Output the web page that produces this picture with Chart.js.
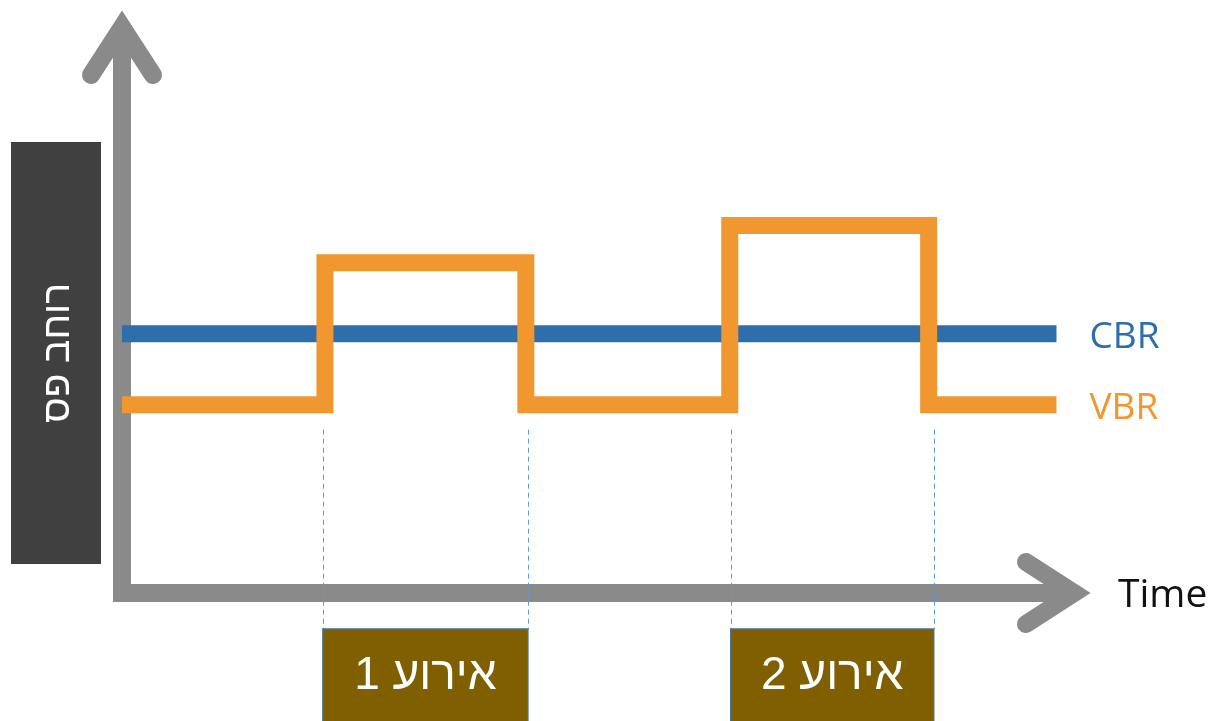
<!DOCTYPE html>
<html>
<head>
<meta charset="utf-8">
<title>CBR / VBR</title>
<script src="https://cdn.jsdelivr.net/npm/chart.js@4/dist/chart.umd.min.js"></script>
<style>
  html, body { margin: 0; padding: 0; background: #ffffff; }
  #wrap { width: 1214px; height: 721px; position: relative; }
</style>
</head>
<body>
<div id="wrap"><canvas id="c" width="1214" height="721"></canvas></div>
<script>
// Series: bandwidth over time (arbitrary units)
const cbrTime = [0, 9.21];
const cbrRate = [7.3, 7.3];
const vbrTime = [0, 2, 2, 3.98, 3.98, 5.99, 5.99, 7.95, 7.95, 9.21];
const vbrRate = [5.3, 5.3, 9.3, 9.3, 5.3, 5.3, 10.35, 10.35, 5.3, 5.3];
const seriesNames = ['CBR', 'VBR'];

// Events marked under the time axis
const eventNames = ['אירוע 1', 'אירוע 2'];
const eventStart = [1.98, 6];
const eventEnd = [4, 8];
const eventGuideTop = 4.6;

// Axis titles and ranges
const yTitle = 'רוחב פס';
const xTitle = 'Time';
const xRange = [0, 9.56];
const yRange = [0, 16.42];

const BLUE = '#2e6eaa';
const ORANGE = '#f0982f';
const GRAY = '#8a8a8a';

const toPoints = (xs, ys) => xs.map((x, i) => ({ x: x, y: ys[i] }));

// Axes with arrowheads, drawn behind the series
const axesPlugin = {
  id: 'arrowAxes',
  beforeDatasetsDraw(chart) {
    const { ctx, scales: { x, y } } = chart;
    const ox = x.getPixelForValue(0);
    const oy = y.getPixelForValue(0);
    const topY = y.getPixelForValue(yRange[1]);
    const rightX = x.getPixelForValue(xRange[1]);
    ctx.save();

    // y-axis title panel
    ctx.fillStyle = '#404040';
    ctx.fillRect(11, 142, 90, 422);
    ctx.save();
    ctx.translate(58, 353);
    ctx.rotate(-Math.PI / 2);
    ctx.fillStyle = '#ffffff';
    ctx.font = '39px "Liberation Sans", "DejaVu Sans", sans-serif';
    ctx.textAlign = 'center';
    ctx.textBaseline = 'middle';
    ctx.direction = 'rtl';
    ctx.fillText(yTitle, 0, 0);
    ctx.restore();

    ctx.strokeStyle = GRAY;
    ctx.lineWidth = 18;
    // shafts
    ctx.lineJoin = 'miter';
    ctx.lineCap = 'butt';
    ctx.beginPath();
    ctx.moveTo(ox, topY + 17);
    ctx.lineTo(ox, oy);
    ctx.lineTo(rightX - 18, oy);
    ctx.stroke();
    // arrowheads
    ctx.lineCap = 'round';
    ctx.beginPath();
    ctx.moveTo(ox - 31, topY + 65);
    ctx.lineTo(ox, topY + 17);
    ctx.lineTo(ox + 31, topY + 65);
    ctx.stroke();
    ctx.beginPath();
    ctx.moveTo(rightX - 66, oy - 31);
    ctx.lineTo(rightX - 18, oy);
    ctx.lineTo(rightX - 66, oy + 31);
    ctx.stroke();

    // x-axis title
    ctx.fillStyle = '#111111';
    ctx.font = '39px "Open Sans", sans-serif';
    ctx.textAlign = 'left';
    ctx.textBaseline = 'middle';
    ctx.fillText(xTitle, rightX + 26, oy + 3);
    ctx.restore();
  },
  afterDatasetsDraw(chart) {
    const { ctx, scales: { x, y } } = chart;
    const oy = y.getPixelForValue(0);
    const guideTop = y.getPixelForValue(eventGuideTop);
    const boxTop = oy + 36;
    ctx.save();

    // series labels at the end of each line
    ctx.font = '37px "Open Sans", sans-serif';
    ctx.textAlign = 'left';
    ctx.textBaseline = 'middle';
    chart.data.datasets.forEach((ds, i) => {
      const meta = chart.getDatasetMeta(i);
      const last = meta.data[meta.data.length - 1];
      ctx.fillStyle = ds.borderColor;
      ctx.fillText(ds.label, last.x + 33, last.y + 4);
    });

    // event guides and boxes
    eventNames.forEach((name, i) => {
      const x0 = x.getPixelForValue(eventStart[i]);
      const x1 = x.getPixelForValue(eventEnd[i]);
      ctx.strokeStyle = '#5b9bd5';
      ctx.lineWidth = 1;
      ctx.setLineDash([5, 4]);
      [x0, x1].forEach(px => {
        ctx.beginPath();
        ctx.moveTo(Math.round(px) + 0.5, guideTop);
        ctx.lineTo(Math.round(px) + 0.5, boxTop);
        ctx.stroke();
      });
      ctx.setLineDash([]);
      ctx.fillStyle = '#7f5f00';
      ctx.fillRect(x0, boxTop, x1 - x0, chart.height - boxTop + 4);
      ctx.strokeStyle = '#41719c';
      ctx.lineWidth = 1.5;
      ctx.strokeRect(x0, boxTop, x1 - x0, chart.height - boxTop + 4);
      ctx.fillStyle = '#ffffff';
      ctx.font = '46px "Liberation Sans", "DejaVu Sans", sans-serif';
      ctx.textAlign = 'center';
      ctx.textBaseline = 'middle';
      ctx.direction = 'rtl';
      ctx.fillText(name, (x0 + x1) / 2, boxTop + 47);
      ctx.direction = 'ltr';
    });
    ctx.restore();
  }
};

new Chart(document.getElementById('c'), {
  type: 'line',
  data: {
    datasets: [
      {
        label: seriesNames[0],
        data: toPoints(cbrTime, cbrRate),
        borderColor: BLUE,
        borderWidth: 17,
        borderCapStyle: 'butt',
        borderJoinStyle: 'miter',
        pointRadius: 0,
        fill: false,
        tension: 0,
        order: 2
      },
      {
        label: seriesNames[1],
        data: toPoints(vbrTime, vbrRate),
        borderColor: ORANGE,
        borderWidth: 17,
        borderCapStyle: 'butt',
        borderJoinStyle: 'miter',
        pointRadius: 0,
        fill: false,
        tension: 0,
        order: 1
      }
    ]
  },
  options: {
    responsive: false,
    animation: false,
    devicePixelRatio: 1,
    layout: { padding: { left: 122, right: 122, top: 10, bottom: 128 } },
    plugins: { legend: { display: false }, tooltip: { enabled: false } },
    scales: {
      x: { type: 'linear', display: false, min: xRange[0], max: xRange[1] },
      y: { type: 'linear', display: false, min: yRange[0], max: yRange[1] }
    }
  },
  plugins: [axesPlugin]
});
</script>
</body>
</html>
